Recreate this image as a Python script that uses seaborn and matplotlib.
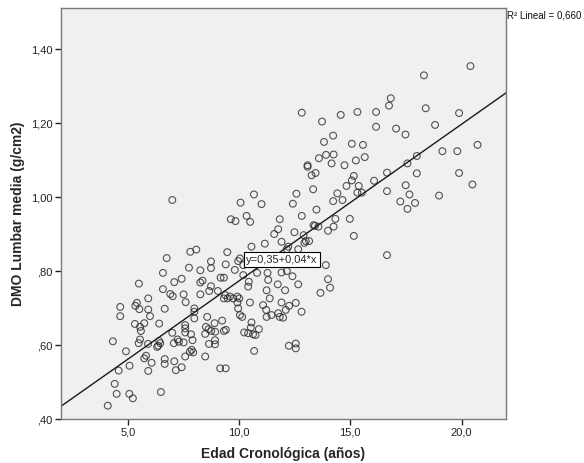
import matplotlib
matplotlib.use("Agg")
import matplotlib.pyplot as plt
import numpy as np
import pandas as pd
import seaborn as sns

# Edad cronológica (años) de cada sujeto
edad = [
    7.00, 7.81, 8.08, 9.47, 6.75, 8.74, 9.40, 7.75, 8.26, 8.74,
    6.58, 9.17, 9.32, 7.42, 7.09, 8.26, 8.36, 5.50, 8.74, 6.58,
    8.66, 9.05, 6.91, 7.02, 7.51, 8.26, 9.38, 9.49, 9.32, 5.92,
    7.60, 5.41, 5.34, 5.52, 5.92, 6.66, 4.66, 7.99, 7.99,
    4.66, 6.00, 5.32, 5.55, 5.74, 5.59, 6.41, 7.99, 8.57, 9.24,
    8.90, 7.58, 7.58, 7.58, 7.00, 7.84, 8.51, 8.63, 8.48, 8.75,
    8.93, 9.41, 9.32, 4.33, 5.55, 5.49, 5.91, 6.41, 6.46, 6.37,
    6.32, 7.07, 7.24, 7.30, 7.51, 7.91, 8.65, 8.92, 8.92, 4.92,
    7.87, 7.79, 7.94, 7.58, 8.48, 5.82, 5.74, 6.07, 6.66, 6.66,
    7.09, 5.08, 4.59, 5.92, 7.16, 7.42, 9.15, 9.40, 4.41, 4.50,
    5.07, 5.23, 6.49, 4.10,
    12.82, 13.73, 14.57, 14.23, 13.82, 15.07, 13.91, 14.25, 13.59, 14.16,
    14.74, 15.25, 13.08, 13.08, 13.44, 13.26, 15.16, 15.07, 13.33, 14.83,
    15.38, 15.32, 15.52, 10.67, 10.07, 11.01, 12.58, 12.42, 14.42, 14.23,
    14.65, 13.48, 9.63, 9.84, 10.34, 10.50, 11.83, 12.82, 14.33, 14.98,
    13.35, 13.41, 13.57, 11.76, 11.58, 12.49, 12.90, 14.25, 14.00, 15.16,
    13.00, 13.15, 12.94, 11.91, 11.16,
    10.56, 12.21, 12.15, 12.66, 10.04, 9.96, 10.19, 9.81, 10.19, 10.44,
    10.41, 10.81, 11.28, 11.31, 11.91, 12.15, 12.40, 12.66, 11.74, 12.07,
    11.24, 13.90, 14.00, 14.09, 13.66, 11.38, 9.59, 9.74, 9.92, 10.01,
    10.49, 9.93, 9.96, 10.04, 10.14, 11.08, 11.22, 11.24, 11.46, 11.76,
    11.83, 11.98, 11.91, 12.10, 12.25, 12.55, 12.81, 10.56, 10.53, 10.89,
    10.41, 10.63, 10.74, 10.23, 10.68, 12.24, 12.55, 12.55,
    20.40, 18.31, 15.32, 16.82, 16.74, 16.16, 18.39, 19.89, 16.16, 17.06,
    17.48, 18.81, 15.57, 15.65, 20.72, 19.14, 19.81, 17.99, 17.57,
    16.07, 16.65, 16.65, 17.99, 19.89, 20.49, 17.49, 17.66, 17.25, 17.91,
    17.57, 18.99, 16.65,
]

# Densidad mineral ósea lumbar media (g/cm2)
dmo = [
    0.992, 0.852, 0.858, 0.851, 0.835, 0.826, 0.818, 0.809, 0.802, 0.808,
    0.795, 0.782, 0.782, 0.779, 0.770, 0.769, 0.774, 0.766, 0.759, 0.751,
    0.746, 0.746, 0.738, 0.732, 0.737, 0.737, 0.735, 0.726, 0.726, 0.726,
    0.716, 0.714, 0.706, 0.697, 0.696, 0.698, 0.703, 0.699, 0.690,
    0.678, 0.678, 0.657, 0.649, 0.659, 0.638, 0.658, 0.672, 0.676, 0.666,
    0.659, 0.654, 0.645, 0.634, 0.633, 0.629, 0.649, 0.643, 0.630, 0.638,
    0.636, 0.641, 0.638, 0.610, 0.615, 0.605, 0.603, 0.611, 0.605, 0.598,
    0.595, 0.605, 0.615, 0.609, 0.607, 0.613, 0.603, 0.602, 0.613, 0.583,
    0.587, 0.582, 0.580, 0.569, 0.569, 0.571, 0.564, 0.552, 0.562, 0.549,
    0.556, 0.544, 0.531, 0.530, 0.532, 0.540, 0.537, 0.537, 0.495, 0.468,
    0.468, 0.456, 0.473, 0.436,
    1.228, 1.204, 1.222, 1.166, 1.149, 1.144, 1.114, 1.115, 1.105, 1.091,
    1.086, 1.099, 1.086, 1.082, 1.065, 1.059, 1.057, 1.045, 1.021, 1.030,
    1.030, 1.012, 1.012, 1.007, 0.985, 0.981, 1.009, 0.982, 1.010, 0.989,
    0.992, 0.966, 0.940, 0.935, 0.949, 0.933, 0.940, 0.949, 0.941, 0.941,
    0.924, 0.922, 0.920, 0.913, 0.900, 0.905, 0.897, 0.920, 0.909, 0.895,
    0.881, 0.881, 0.876, 0.879, 0.874,
    0.866, 0.866, 0.859, 0.859, 0.834, 0.827, 0.816, 0.803, 0.789, 0.771,
    0.758, 0.795, 0.795, 0.776, 0.796, 0.800, 0.786, 0.764, 0.764, 0.748,
    0.748, 0.816, 0.778, 0.755, 0.741, 0.726, 0.731, 0.726, 0.731, 0.726,
    0.715, 0.715, 0.699, 0.681, 0.676, 0.708, 0.695, 0.676, 0.681, 0.686,
    0.676, 0.674, 0.715, 0.695, 0.706, 0.714, 0.690, 0.661, 0.647, 0.643,
    0.632, 0.629, 0.627, 0.634, 0.584, 0.598, 0.604, 0.591,
    1.354, 1.329, 1.230, 1.267, 1.247, 1.230, 1.240, 1.227, 1.190, 1.185,
    1.169, 1.195, 1.141, 1.108, 1.141, 1.124, 1.124, 1.111, 1.091,
    1.044, 1.066, 1.016, 1.064, 1.065, 1.034, 1.032, 1.007, 0.988, 0.984,
    0.968, 1.004, 0.843,
]

x_ticks = [5, 10, 15, 20]
x_tick_labels = ["5,0", "10,0", "15,0", "20,0"]
y_ticks = [0.40, 0.60, 0.80, 1.00, 1.20, 1.40]
y_tick_labels = [",40", ",60", ",80", "1,00", "1,20", "1,40"]

eq_label = "y=0,35+0,04*x"
r2_label = "R² Lineal = 0,660"

df = pd.DataFrame({"edad": edad, "dmo": dmo})

sns.set_style("ticks", {"axes.facecolor": "#F0F0F0"})
plt.rcParams["font.family"] = ["Liberation Sans", "DejaVu Sans"]

fig = plt.figure(figsize=(5.84, 4.63), dpi=100)
ax = fig.add_axes([0.1045, 0.095, 0.762, 0.8877])
ax.set_xlim(2, 22)
ax.set_ylim(0.40, 1.511)

sns.regplot(
    data=df, x="edad", y="dmo", ax=ax, ci=None, truncate=False,
    scatter_kws=dict(s=24, facecolors="none", edgecolors="#2a2a2a",
                     linewidths=0.8, marker="o"),
    line_kws=dict(color="#1a1a1a", linewidth=1.0),
)

ax.set_xticks(x_ticks)
ax.set_xticklabels(x_tick_labels, fontsize=8)
ax.set_yticks(y_ticks)
ax.set_yticklabels(y_tick_labels, fontsize=8)
ax.tick_params(axis="both", direction="out", length=4, width=1,
               color="#222222", labelcolor="#222222", pad=2)

for side in ["left", "bottom", "right", "top"]:
    ax.spines[side].set_visible(True)
    ax.spines[side].set_color("#7a7a7a")
    ax.spines[side].set_linewidth(1.0)

ax.set_xlabel("Edad Cronológica (años)", fontsize=10, fontweight="bold")
ax.set_ylabel("DMO Lumbar media (g/cm2)", fontsize=10, fontweight="bold")
ax.xaxis.label.set_va("center")
ax.yaxis.label.set_va("center")
ax.xaxis.set_label_coords(0.5, -0.085)
ax.yaxis.set_label_coords(-0.097, 0.5)

ax.text(10.33, 0.831, eq_label, fontsize=8, ha="left", va="center",
        bbox=dict(boxstyle="square,pad=0.2", facecolor="white",
                  edgecolor="black", linewidth=0.8), zorder=5)

fig.text(0.868, 0.966, r2_label, fontsize=7, ha="left", va="center",
         color="#111111")

fig.savefig("out.png", dpi=100)
